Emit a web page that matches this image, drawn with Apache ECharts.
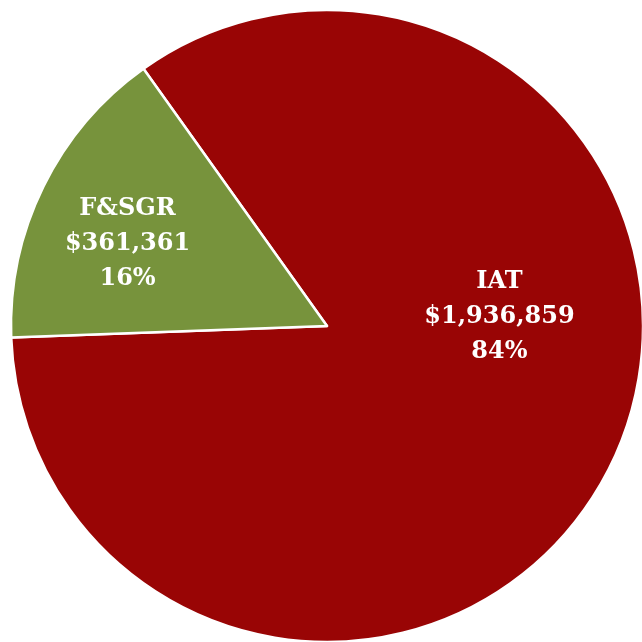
<!DOCTYPE html>
<html>
<head>
<meta charset="utf-8">
<script src="https://cdn.jsdelivr.net/npm/echarts@6/dist/echarts.min.js"></script>
<style>
html, body { margin: 0; padding: 0; background: #ffffff; }
#chart { width: 642px; height: 642px; }
</style>
</head>
<body>
<div id="chart"></div>
<script>
// Funding split by program
const categories = ['IAT', 'F&SGR'];
const amounts = [1936859, 361361];
const colors = ['#990505', '#77933C'];
// Label nudges (px) so the text sits where the slice has room
const labelShift = [[28, -80], [-55, -11]];

const total = amounts.reduce((a, b) => a + b, 0);
const fmtMoney = v => '$' + v.toLocaleString('en-US');

const chart = echarts.init(document.getElementById('chart'));
chart.setOption({
  animation: false,
  series: [{
    type: 'pie',
    center: [327, 326],
    radius: 316,
    startAngle: 125.5,
    clockwise: true,
    data: categories.map((name, i) => ({
      name,
      value: amounts[i],
      itemStyle: { color: colors[i] }
    })),
    itemStyle: { borderColor: '#ffffff', borderWidth: 2.5 },
    label: {
      show: true,
      position: 'inside',
      color: '#ffffff',
      fontFamily: 'DejaVu Serif, Liberation Serif, serif',
      fontWeight: 'bold',
      fontSize: 24,
      lineHeight: 35,
      align: 'center',
      formatter: p => p.name + '\n' + fmtMoney(p.value) + '\n' + Math.round(p.value / total * 100) + '%'
    },
    labelLayout: p => ({ dx: labelShift[p.dataIndex][0], dy: labelShift[p.dataIndex][1] }),
    emphasis: { disabled: true }
  }]
});
</script>
</body>
</html>
